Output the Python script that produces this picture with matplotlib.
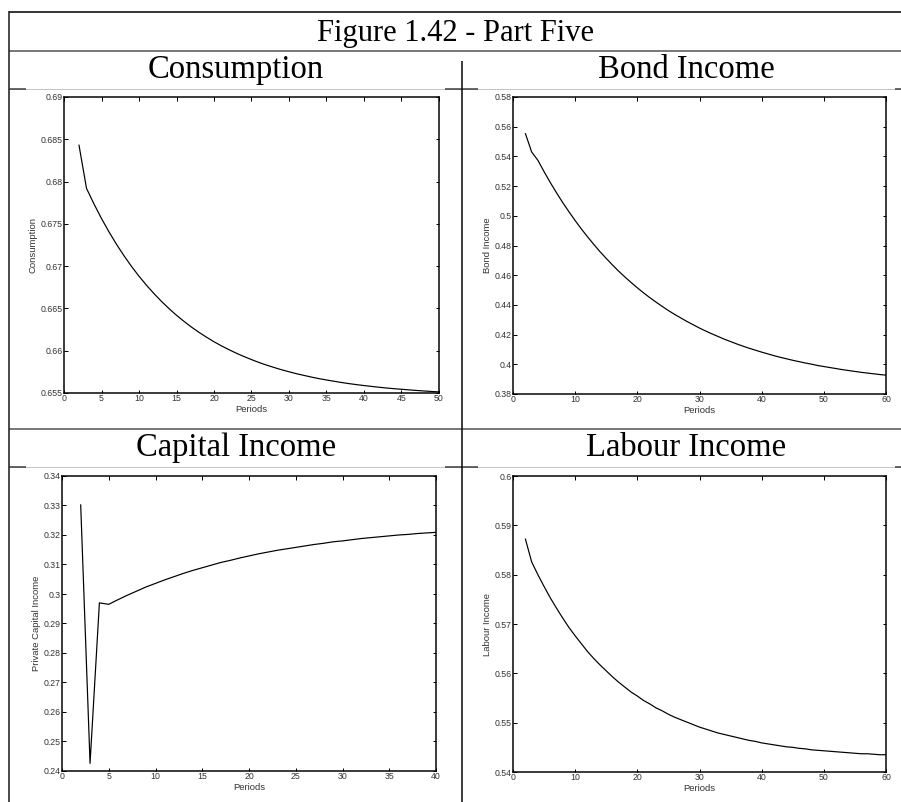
import matplotlib
matplotlib.use("Agg")
import matplotlib.pyplot as plt
from matplotlib.lines import Line2D
from matplotlib.ticker import FuncFormatter

# ---- data -------------------------------------------------------------
consumption_periods = list(range(2, 51))
consumption = [
    0.6843, 0.6792, 0.67735, 0.67563, 0.67405, 0.67258, 0.67123, 0.66997,
    0.66881, 0.66774, 0.66675, 0.66583, 0.66498, 0.66419, 0.66347, 0.66279,
    0.66217, 0.66160, 0.66106, 0.66057, 0.66012, 0.65970, 0.65931, 0.65895,
    0.65861, 0.65830, 0.65802, 0.65775, 0.65751, 0.65728, 0.65708, 0.65688,
    0.65670, 0.65654, 0.65639, 0.65624, 0.65611, 0.65599, 0.65588, 0.65578,
    0.65568, 0.65559, 0.65551, 0.65544, 0.65537, 0.65530, 0.65524, 0.65518,
    0.65513,
]

bond_periods = list(range(2, 61))
bond_income = [
    0.5553, 0.5430, 0.5374, 0.5297, 0.5224, 0.5155, 0.5089, 0.5027, 0.4968,
    0.4911, 0.4858, 0.4807, 0.4758, 0.4713, 0.4669, 0.4627, 0.4588, 0.4551,
    0.4515, 0.4481, 0.4449, 0.4419, 0.4390, 0.4362, 0.4336, 0.4312, 0.4288,
    0.4266, 0.4244, 0.4224, 0.4205, 0.4187, 0.4169, 0.4153, 0.4137, 0.4122,
    0.4108, 0.4095, 0.4082, 0.4070, 0.4058, 0.4047, 0.4037, 0.4027, 0.4018,
    0.4009, 0.4001, 0.3992, 0.3985, 0.3978, 0.3971, 0.3964, 0.3958, 0.3952,
    0.3946, 0.3941, 0.3936, 0.3931, 0.3927,
]

capital_periods = list(range(2, 41))
capital_income = [
    0.3302, 0.2426, 0.2970, 0.2965, 0.2981, 0.2996, 0.3010, 0.3024, 0.3036,
    0.3048, 0.3059, 0.3070, 0.3080, 0.3089, 0.3098, 0.3107, 0.3114, 0.3122,
    0.3129, 0.3136, 0.3142, 0.3148, 0.3153, 0.3158, 0.3163, 0.3168, 0.3172,
    0.3177, 0.3180, 0.3184, 0.3188, 0.3191, 0.3194, 0.3197, 0.3200, 0.3202,
    0.3205, 0.3207, 0.3209,
]

labour_periods = list(range(2, 61))
labour_income = [
    0.5872, 0.5826, 0.5800, 0.5776, 0.5753, 0.5732, 0.5712, 0.5693, 0.5676,
    0.5660, 0.5644, 0.5630, 0.5617, 0.5605, 0.5593, 0.5582, 0.5572, 0.5562,
    0.5554, 0.5545, 0.5538, 0.5530, 0.5524, 0.5517, 0.5511, 0.5506, 0.5501,
    0.5496, 0.5491, 0.5487, 0.5483, 0.5479, 0.5476, 0.5473, 0.5470, 0.5467,
    0.5464, 0.5462, 0.5459, 0.5457, 0.5455, 0.5453, 0.5451, 0.5450, 0.5448,
    0.5447, 0.5445, 0.5444, 0.5443, 0.5442, 0.5441, 0.5440, 0.5439, 0.5438,
    0.5437, 0.5437, 0.5436, 0.5435, 0.5435,
]

figure_title = "Figure 1.42 - Part Five"
panel_titles = ["Consumption", "Bond Income", "Capital Income", "Labour Income"]
y_labels = ["Consumption", "Bond Income", "Private Capital Income", "Labour Income"]

consumption_xticks = list(range(0, 51, 5))
consumption_yticks = [0.655, 0.66, 0.665, 0.67, 0.675, 0.68, 0.685, 0.69]
bond_xticks = list(range(0, 61, 10))
bond_yticks = [0.38, 0.40, 0.42, 0.44, 0.46, 0.48, 0.50, 0.52, 0.54, 0.56, 0.58]
capital_xticks = list(range(0, 41, 5))
capital_yticks = [0.24, 0.25, 0.26, 0.27, 0.28, 0.29, 0.30, 0.31, 0.32, 0.33, 0.34]
labour_xticks = list(range(0, 61, 10))
labour_yticks = [0.54, 0.55, 0.56, 0.57, 0.58, 0.59, 0.60]

# ---- layout helpers (pixel coordinates, origin top-left) ---------------
W, H = 901, 802
fig = plt.figure(figsize=(W / 100, H / 100), dpi=100)
fig.patch.set_facecolor("white")
PX = 0.72  # one pixel in points at 100 dpi


def hline(y, x0, x1, color, lw_px):
    fig.add_artist(Line2D([x0 / W, x1 / W], [1 - y / H, 1 - y / H],
                          transform=fig.transFigure, color=color,
                          lw=lw_px * PX, solid_capstyle="butt"))


def vline(x, y0, y1, color, lw_px):
    fig.add_artist(Line2D([x / W, x / W], [1 - y0 / H, 1 - y1 / H],
                          transform=fig.transFigure, color=color,
                          lw=lw_px * PX, solid_capstyle="butt"))


def heading(x, y, s, size=23.5):
    fig.text(x / W, 1 - y / H, s, ha="center", va="baseline",
             fontsize=size, family="Liberation Serif", color="black")


# ---- table frame -------------------------------------------------------
hline(12, 9, W, "#3a3a3a", 2)
hline(51, 9, W, "#7a7a7a", 2)
for yrow in (89, 467):
    hline(yrow, 9, W, "#c4c4c4", 1)
    hline(yrow, 9, 26, "#3a3a3a", 1.5)
    hline(yrow, 445, 478, "#3a3a3a", 1.5)
    hline(yrow, 895, W, "#3a3a3a", 1.5)
hline(429, 9, W, "#7a7a7a", 2)
vline(9, 11, H, "#222222", 1.6)
vline(462, 61, H, "#111111", 1.6)

heading(456, 41, figure_title, size=22)
heading(236, 78, panel_titles[0])
heading(686, 78, panel_titles[1])
heading(236, 456, panel_titles[2])
heading(686, 456, panel_titles[3])

# ---- plots -------------------------------------------------------------
panels = [
    ((64, 439, 97, 393), consumption_periods, consumption,
     consumption_xticks, consumption_yticks, y_labels[0]),
    ((513, 886, 97, 394), bond_periods, bond_income,
     bond_xticks, bond_yticks, y_labels[1]),
    ((62, 436, 476, 771), capital_periods, capital_income,
     capital_xticks, capital_yticks, y_labels[2]),
    ((513, 886, 476, 772), labour_periods, labour_income,
     labour_xticks, labour_yticks, y_labels[3]),
]

small = dict(family="Liberation Sans", fontsize=6.8, color="#333333")

for (x0, x1, y0, y1), xs, ys, xt, yt, ylab in panels:
    ax = fig.add_axes([x0 / W, 1 - y1 / H, (x1 - x0) / W, (y1 - y0) / H])
    ax.plot(xs, ys, color="black", lw=1.2 * PX)
    ax.set_xlim(xt[0], xt[-1])
    ax.set_ylim(yt[0], yt[-1])
    ax.set_xticks(xt)
    ax.set_yticks(yt)
    ax.yaxis.set_major_formatter(FuncFormatter(lambda v, p: f"{v:g}"))
    ax.xaxis.set_major_formatter(FuncFormatter(lambda v, p: f"{v:g}"))
    ax.tick_params(direction="in", length=3.5 * PX, width=1.0 * PX,
                   top=True, right=True, pad=1.0, labelsize=6.3,
                   labelcolor="#333333")
    for lab in ax.get_xticklabels() + ax.get_yticklabels():
        lab.set_family("Liberation Sans")
    for sp in ax.spines.values():
        sp.set_linewidth(1.5 * PX)
        sp.set_color("black")
    ax.set_xlabel("Periods", labelpad=1, **small)
    ax.set_ylabel(ylab, labelpad=2, **small)

fig.savefig("out.png", dpi=100, facecolor="white")
